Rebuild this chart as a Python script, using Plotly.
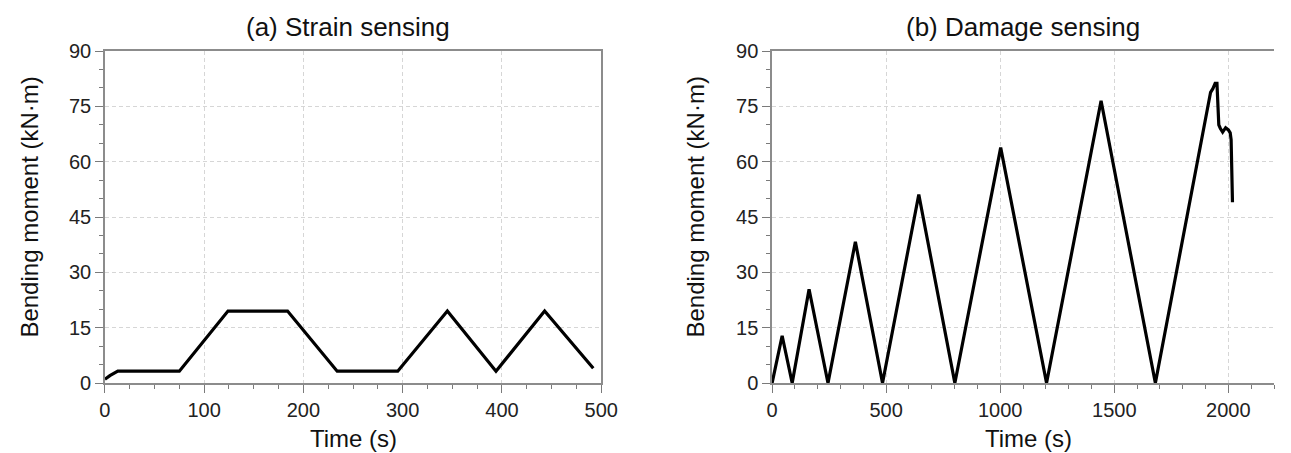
import plotly.graph_objects as go

# Panel (a) strain sensing
time_a = [0, 5, 13, 75, 124, 184, 234, 295, 345, 394, 443, 492]
moment_a = [1.0, 2.0, 3.2, 3.2, 19.5, 19.5, 3.2, 3.2, 19.5, 3.2, 19.5, 4.0]

# Panel (b) damage sensing
time_b = [0, 44, 88, 162, 245, 365, 484, 643, 801, 1002, 1203, 1442, 1680,
          1922, 1932, 1942, 1950, 1958, 1965, 1975, 1988, 2000, 2008, 2012, 2018]
moment_b = [0, 12.8, 0, 25.4, 0, 38.3, 0, 51.1, 0, 63.8, 0, 76.5, 0,
            78.8, 79.8, 81.2, 81.2, 70.0, 69.0, 68.0, 69.2, 68.6, 67.8, 66.0, 49.0]

y_ticks = [0, 15, 30, 45, 60, 75, 90]
x_ticks_a = [0, 100, 200, 300, 400, 500]
x_ticks_b = [0, 500, 1000, 1500, 2000]

FONT = "Liberation Sans, Arial, sans-serif"
W, H = 1291, 453
ML, MR, MT, MB = 0, 0, 51, 70

fig = go.Figure()
line_style = dict(color="black", width=3.2)
fig.add_trace(go.Scatter(x=time_a, y=moment_a, mode="lines", line=line_style,
                         xaxis="x", yaxis="y", showlegend=False))
fig.add_trace(go.Scatter(x=time_b, y=moment_b, mode="lines", line=line_style,
                         xaxis="x2", yaxis="y2", showlegend=False))

axis_common = dict(
    showline=True, linecolor="#8c8c8c", linewidth=1.5,
    ticks="outside", ticklen=8, tickwidth=1.2, tickcolor="#7a7a7a",
    showgrid=True, gridcolor="#d6d6d6", gridwidth=1, griddash="4px,3px",
    zeroline=False,
    tickfont=dict(family=FONT, size=20, color="#222"),
)

fig.update_layout(
    width=W, height=H, autosize=False,
    margin=dict(l=ML, r=MR, t=MT, b=MB),
    plot_bgcolor="white", paper_bgcolor="white",
    xaxis=dict(axis_common, domain=[100.7 / W, 606 / W], range=[0, 500],
               tickvals=x_ticks_a, mirror=True, anchor="y",
               minor=dict(dtick=25, ticklen=4, tickcolor="#7a7a7a", ticks="outside", showgrid=False)),
    yaxis=dict(axis_common, domain=[0, 1], range=[0, 90], tickvals=y_ticks,
               mirror=True, anchor="x",
               minor=dict(dtick=5, ticklen=4, tickcolor="#7a7a7a", ticks="outside", showgrid=False)),
    xaxis2=dict(axis_common, domain=[780 / W, 1.0], range=[0, 2200],
                tickvals=x_ticks_b, mirror=True, anchor="y2",
                minor=dict(dtick=100, ticklen=4, tickcolor="#7a7a7a", ticks="outside", showgrid=False)),
    yaxis2=dict(axis_common, domain=[0, 1], range=[0, 90], tickvals=y_ticks,
                mirror=False, anchor="x2",
                minor=dict(dtick=5, ticklen=4, tickcolor="#7a7a7a", ticks="outside", showgrid=False)),
)

PH = H - MT - MB


def py(p):
    return (H - MB - p) / PH


ann = []
ann.append(dict(text="(a) Strain sensing", x=348 / W, y=py(27), font=dict(size=26)))
ann.append(dict(text="(b) Damage sensing", x=1035 / W, y=py(27), font=dict(size=26)))
ann.append(dict(text="Time (s)", x=354 / W, y=py(438), font=dict(size=24)))
ann.append(dict(text="Time (s)", x=1041 / W, y=py(439), font=dict(size=24)))
ann.append(dict(text="Bending moment (kN·m)", x=23 / W, y=py(207), textangle=-90, font=dict(size=24)))
ann.append(dict(text="Bending moment (kN·m)", x=701 / W, y=py(207), textangle=-90, font=dict(size=24)))
for a in ann:
    a.update(xref="paper", yref="paper", xanchor="center", yanchor="middle",
             showarrow=False)
    a["font"].update(family=FONT, color="#111")
fig.update_layout(annotations=ann)

fig.write_html(
    "out.html",
    config={"displayModeBar": False, "responsive": False},
    post_script=(
        "document.documentElement.style.overflow='hidden';"
        "document.body.style.overflow='hidden';"
        "document.body.style.margin='0';"
    ),
)
